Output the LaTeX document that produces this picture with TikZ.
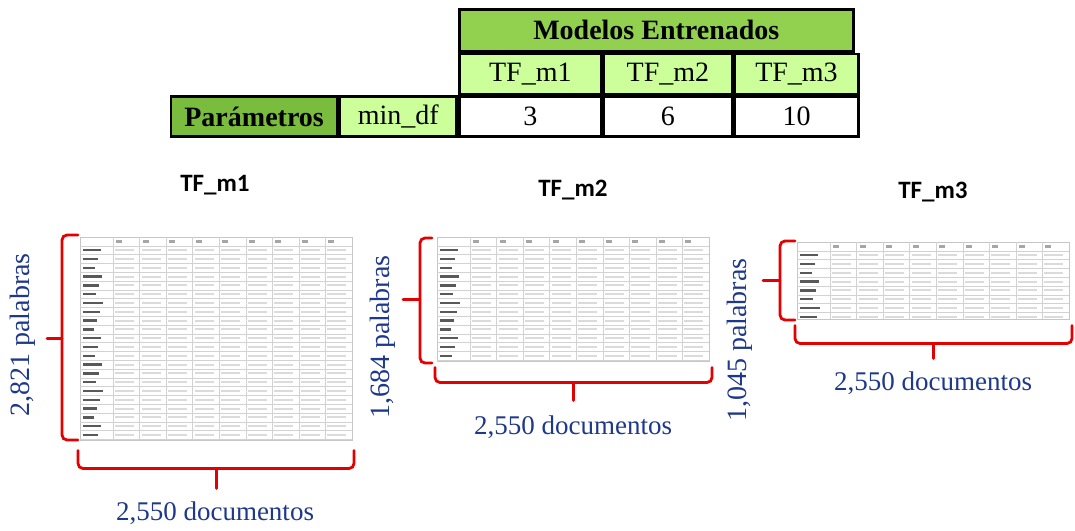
\documentclass[tikz,border=0pt]{standalone}
\usepackage{fontspec}
\setmainfont{Liberation Serif}
\newfontfamily\lblfont{Carlito}
\usetikzlibrary{calc}

\definecolor{hdrgreen}{RGB}{146,208,80}
\definecolor{lightgreen}{RGB}{204,255,153}
\definecolor{paramgreen}{RGB}{122,188,62}
\definecolor{bracered}{RGB}{228,0,0}
\definecolor{lblblue}{RGB}{30,56,138}

\tikzset{
  cell/.style={draw, line width=2.6pt, inner sep=0pt, minimum height=40,
    font=\fontsize{28}{30}\selectfont},
  hdrcell/.style={cell, fill=hdrgreen, minimum height=42, font=\fontsize{28}{30}\selectfont\bfseries},
  tfcell/.style={cell, fill=lightgreen},
  paramcell/.style={cell, fill=paramgreen, font=\fontsize{28}{30}\selectfont\bfseries},
  matbox/.style={draw=gray!45, line width=0.5pt, fill=white, inner sep=0pt, minimum width=272},
  gridline/.style={draw=gray!35, line width=0.4pt},
  rbr/.style={draw=bracered, line width=2.8pt, rounded corners=5pt, line cap=round},
  modlbl/.style={font=\lblfont\fontsize{25}{27}\selectfont\bfseries},
  doclbl/.style={text=lblblue, font=\fontsize{27}{29}\selectfont},
  wordlbl/.style={text=lblblue, rotate=90, font=\fontsize{28}{30}\selectfont}
}

% document-term matrix drawn as a small spreadsheet
\newcommand{\tfmatrix}[4]{%
  \node (#1) [matbox, minimum height=#4, anchor=north west] at (#2,#3) {};
  \begin{scope}[shift={(#2,#3)}]
    \clip (0,0) rectangle (272,#4);
    \foreach \r in {0,...,23} {
      \pgfmathsetmacro\ry{\r*8.8}
      \draw[gridline] (0,\ry+8.8) -- (272,\ry+8.8);
      \ifnum\r=0
        \foreach \k in {0,...,8} \fill[gray!70] (36+\k*26.55,3.2) rectangle ++(6,2.4);
      \else
        \pgfmathsetmacro\lw{11+mod(\r*7,10)}
        \fill[black!65] (3,\ry+3.2) rectangle ++(\lw,2.4);
        \foreach \k in {0,...,8} \fill[gray!28] (35+\k*26.55,\ry+3.4) rectangle ++(19,2);
      \fi
    }
    \foreach \k in {0,...,9} \draw[gridline] (33+\k*26.55,0) -- ++(0,#4);
  \end{scope}
}

\begin{document}
\begin{tikzpicture}[x=1pt,y=-1pt]
  \useasboundingbox (0,0) rectangle (1075,530);

  % table of models
  \node (hdr) [hdrcell, minimum width=394, anchor=north west] at (458,8) {Modelos Entrenados};
  \node (tf1) [tfcell, minimum width=142, anchor=north west] at (hdr.south west) {TF\_m1};
  \node (tf2) [tfcell, minimum width=128, anchor=north west] at (tf1.north east) {TF\_m2};
  \node (tf3) [tfcell, minimum width=124, anchor=north west] at (tf2.north east) {TF\_m3};
  \node (v1) [cell, minimum width=142, anchor=north west] at (tf1.south west) {3};
  \node (v2) [cell, minimum width=128, anchor=north west] at (v1.north east) {6};
  \node (v3) [cell, minimum width=124, anchor=north west] at (v2.north east) {10};
  \node (mindf) [tfcell, minimum width=117, anchor=north east] at (v1.north west) {min\_df};
  \node (param) [paramcell, minimum width=166, anchor=north east] at (mindf.north west) {Parámetros};

  % matrices
  \node (t1) [modlbl] at (215,185) {TF\_m1};
  \node (t2) [modlbl] at (573,190) {TF\_m2};
  \node (t3) [modlbl] at (933,192) {TF\_m3};
  \tfmatrix{m1}{80}{237}{203}
  \tfmatrix{m2}{437}{237}{124}
  \tfmatrix{m3}{797}{242}{77}

  % braces
  \draw[rbr] ($(m1.north west)+(-2,-2)$) -- ++(-16,0) -- ++(0,205) -- ++(16,0);
  \draw[rbr] ($(m1.west)+(-18,0)$) -- ++(-15,0);
  \draw[rbr] ($(m1.south west)+(-2,10)$) -- ++(0,18) -- ++(276,0) -- ++(0,-18);
  \draw[rbr] ($(m1.south)+(0,28)$) -- ++(0,20);
  \draw[rbr] ($(m2.north west)+(-5,1)$) -- ++(-12,0) -- ++(0,125) -- ++(12,0);
  \draw[rbr] ($(m2.west)+(-17,0)$) -- ++(-17,0);
  \draw[rbr] ($(m2.south west)+(-2,6)$) -- ++(0,15) -- ++(277,0) -- ++(0,-15);
  \draw[rbr] ($(m2.south)+(0,21)$) -- ++(0,18);
  \draw[rbr] ($(m3.north west)+(-2,-1)$) -- ++(-15,0) -- ++(0,79) -- ++(15,0);
  \draw[rbr] ($(m3.west)+(-17,0)$) -- ++(-17,0);
  \draw[rbr] ($(m3.south west)+(-2,6)$) -- ++(0,18) -- ++(277,0) -- ++(0,-18);
  \draw[rbr] ($(m3.south)+(0,24)$) -- ++(0,15);

  % labels
  \node (w1) [wordlbl] at (23,335) {2,821 palabras};
  \node (w2) [wordlbl] at (383,337) {1,684 palabras};
  \node (w3) [wordlbl] at (740,340) {1,045 palabras};
  \node (d1) [doclbl] at (215,513) {2,550 documentos};
  \node (d2) [doclbl] at (573,427) {2,550 documentos};
  \node (d3) [doclbl] at (933,383) {2,550 documentos};
\end{tikzpicture}
\end{document}
